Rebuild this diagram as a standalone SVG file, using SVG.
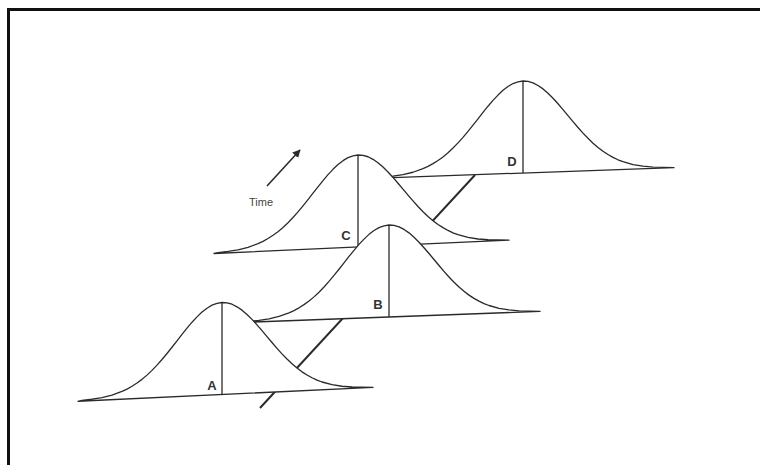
<svg xmlns="http://www.w3.org/2000/svg" xmlns:xlink="http://www.w3.org/1999/xlink" width="760" height="465" viewBox="0 0 760 465">
  <style>
    .bell { fill: #ffffff; stroke: #2a2a2a; stroke-width: 1.3; stroke-linejoin: round; }
    .mid { fill: none; stroke: #2a2a2a; stroke-width: 1.3; }
    .axis { fill: none; stroke: #2a2a2a; stroke-width: 2; }
    .lbl { font-family: "Liberation Sans", Arial, sans-serif; font-size: 13px; font-weight: bold; fill: #333333; text-anchor: middle; }
    .time { font-family: "Liberation Sans", Arial, sans-serif; font-size: 11px; fill: #444444; text-anchor: middle; }
  </style>
  <defs>
    <path id="bell" d="M-144,0 L-140,-0.7 L-130,-1.4 L-120,-2.6 L-110,-4.6 L-100,-7.8 L-95,-9.9 L-90,-12.5 L-85,-15.5 L-80,-18.9 L-75,-22.9 L-70,-27.4 L-65,-32.4 L-60,-37.8 L-55,-43.6 L-50,-49.6 L-45,-55.8 L-40,-62 L-35,-68 L-30,-73.7 L-25,-78.8 L-20,-83.4 L-15,-87 L-10,-89.8 L-5,-91.4 L0,-92 L5,-91.4 L10,-89.8 L15,-87 L20,-83.4 L25,-78.8 L30,-73.7 L35,-68 L40,-62 L45,-55.8 L50,-49.6 L55,-43.6 L60,-37.8 L65,-32.4 L70,-27.4 L75,-22.9 L80,-18.9 L85,-15.5 L90,-12.5 L95,-9.9 L100,-7.8 L110,-4.6 L120,-2.6 L130,-1.4 L140,-0.7 L151,0 Z"/>
    <marker id="arrow" viewBox="0 0 10 10" refX="9" refY="5" markerWidth="8" markerHeight="8" markerUnits="userSpaceOnUse" orient="auto">
      <path d="M0,0 L10,5 L0,10 Z" fill="#2a2a2a"/>
    </marker>
  </defs>
  <rect x="0" y="0" width="760" height="465" fill="#ffffff"/>
  <path d="M8.5,465 V9.5 H760" fill="none" stroke="#111111" stroke-width="3"/>

  <g id="connectors">
    <line class="axis" x1="260" y1="408" x2="475" y2="175"/>
  </g>

  <g id="node-D">
    <g transform="matrix(1,-0.035,0,1,523,173)">
      <use xlink:href="#bell" class="bell"/>
      <line class="mid" x1="0" y1="0" x2="0" y2="-92"/>
    </g>
    <text class="lbl" x="512" y="166">D</text>
  </g>

  <g id="node-C">
    <g transform="matrix(1,-0.045,0,1,358,247)">
      <use xlink:href="#bell" class="bell"/>
      <line class="mid" x1="0" y1="0" x2="0" y2="-92"/>
    </g>
    <text class="lbl" x="346" y="240">C</text>
  </g>

  <g id="node-B">
    <g transform="matrix(1,-0.037,0,1,389,317)">
      <use xlink:href="#bell" class="bell"/>
      <line class="mid" x1="0" y1="0" x2="0" y2="-92"/>
    </g>
    <text class="lbl" x="378" y="309">B</text>
  </g>

  <g id="node-A">
    <g transform="matrix(1,-0.047,0,1,222,394.5)">
      <use xlink:href="#bell" class="bell"/>
      <line class="mid" x1="0" y1="0" x2="0" y2="-92"/>
    </g>
    <text class="lbl" x="212" y="390">A</text>
  </g>

  <g id="time-legend">
    <line x1="267" y1="186" x2="300" y2="150" stroke="#2a2a2a" stroke-width="1.6" marker-end="url(#arrow)"/>
    <text class="time" x="261" y="206">Time</text>
  </g>
</svg>
